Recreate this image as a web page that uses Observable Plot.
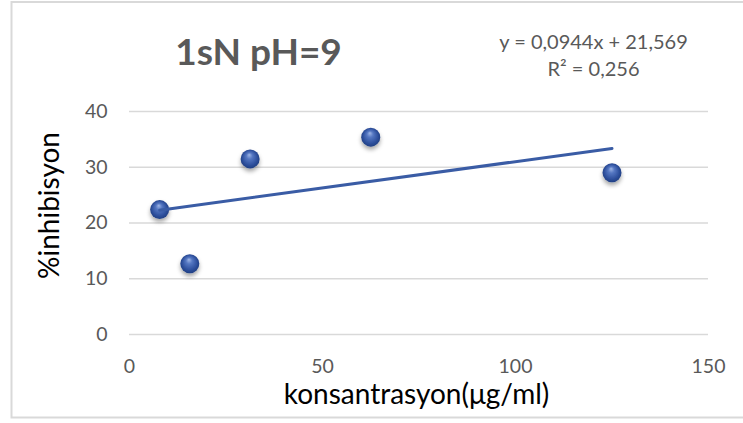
<!DOCTYPE html>
<html>
<head>
<meta charset="utf-8">
<script src="https://cdn.jsdelivr.net/npm/d3@7"></script>
<script src="https://cdn.jsdelivr.net/npm/@observablehq/plot@0.6"></script>
<style>
  html, body { margin: 0; padding: 0; background: #fff; }
  #chart svg { display: block; }
</style>
</head>
<body>
<div id="chart"></div>
<script>
// Chart texts
const title = "1sN pH=9";
const xLabel = "konsantrasyon(μg/ml)";
const yLabel = "%inhibisyon";

// Measured series
const concentrations = [7.8125, 15.625, 31.25, 62.5, 125];
const inhibition = [22.4, 12.7, 31.5, 35.4, 29.0];

// Axis ticks
const xTicks = [0, 50, 100, 150];
const yTicks = [0, 10, 20, 30, 40];

// Linear trendline parameters
const trendSlope = 0.0944;
const trendIntercept = 21.569;
const trendR2 = 0.256;

const points = concentrations.map((x, i) => ({x, y: inhibition[i]}));
const trend = d3.extent(concentrations).map(x => ({x, y: trendSlope * x + trendIntercept}));
const comma = v => String(v).replace(".", ",");
const equation = `y = ${comma(trendSlope)}x + ${comma(trendIntercept)}\nR² = ${comma(trendR2)}`;

const grey = "#595959";
const lineGrey = "#d9d9d9";

const chart = Plot.plot({
  width: 743,
  height: 423,
  marginLeft: 129,
  marginRight: 35,
  marginTop: 111,
  marginBottom: 89,
  style: {fontFamily: "Lato, sans-serif", background: "#fff", overflow: "hidden"},
  x: {domain: [0, 150], ticks: xTicks, label: null},
  y: {domain: [0, 40], ticks: yTicks, label: null},
  marks: [
    // chart area border
    Plot.frame({stroke: lineGrey, strokeWidth: 2, insetLeft: -118, insetTop: -109.5, insetBottom: -83, insetRight: -45}),
    Plot.gridY(yTicks, {stroke: lineGrey, strokeOpacity: 1, strokeWidth: 1.5}),
    Plot.axisY(yTicks, {tickSize: 0, tickPadding: 22, fontSize: 19.5, fill: grey, label: null}),
    Plot.axisX(xTicks, {tickSize: 0, tickPadding: 25, fontSize: 19.5, fill: grey, label: null}),
    Plot.dot(points, {x: "x", y: "y", r: 9.5, fill: "#3558a5"}),
    Plot.line(trend, {x: "x", y: "y", stroke: "#3a5ca5", strokeWidth: 3, strokeLinecap: "round"}),
    Plot.text([title], {text: d => d, frameAnchor: "top", dx: -160.5, dy: -46.7, lineAnchor: "bottom",
      textAnchor: "middle", fontSize: 37, fontWeight: "bold", fill: grey}),
    Plot.text([equation], {text: d => d, frameAnchor: "top", dx: 174.5, dy: -36, lineAnchor: "bottom",
      textAnchor: "middle", fontSize: 20, lineHeight: 1.335, fill: grey}),
    Plot.text([xLabel], {text: d => d, frameAnchor: "bottom", dx: -2.5, dy: 69.3, lineAnchor: "bottom",
      textAnchor: "middle", fontSize: 28, fill: "#000"}),
    Plot.text([yLabel], {text: d => d, frameAnchor: "left", dx: -71, dy: -17.5, rotate: -90, lineAnchor: "bottom",
      textAnchor: "middle", fontSize: 28, fill: "#000"})
  ]
});

// Shaded sphere markers with a soft drop shadow
const svg = d3.select(chart);
const defs = svg.insert("defs", ":first-child");
const grad = defs.append("radialGradient")
  .attr("id", "sphere")
  .attr("cx", "50%").attr("cy", "50%").attr("r", "55%")
  .attr("fx", "45%").attr("fy", "28%");
[["0%", "#9fb6e6"], ["30%", "#5577c2"], ["70%", "#2f519e"], ["100%", "#1d3a7c"]]
  .forEach(([o, c]) => grad.append("stop").attr("offset", o).attr("stop-color", c));
defs.append("filter")
  .attr("id", "dotShadow")
  .attr("x", "-50%").attr("y", "-50%").attr("width", "200%").attr("height", "220%")
  .append("feDropShadow")
  .attr("dx", 0).attr("dy", 3).attr("stdDeviation", 2)
  .attr("flood-color", "#000").attr("flood-opacity", 0.35);
svg.select('g[aria-label="dot"]')
  .attr("fill", "url(#sphere)")
  .attr("filter", "url(#dotShadow)");

document.getElementById("chart").append(chart);
</script>
</body>
</html>
